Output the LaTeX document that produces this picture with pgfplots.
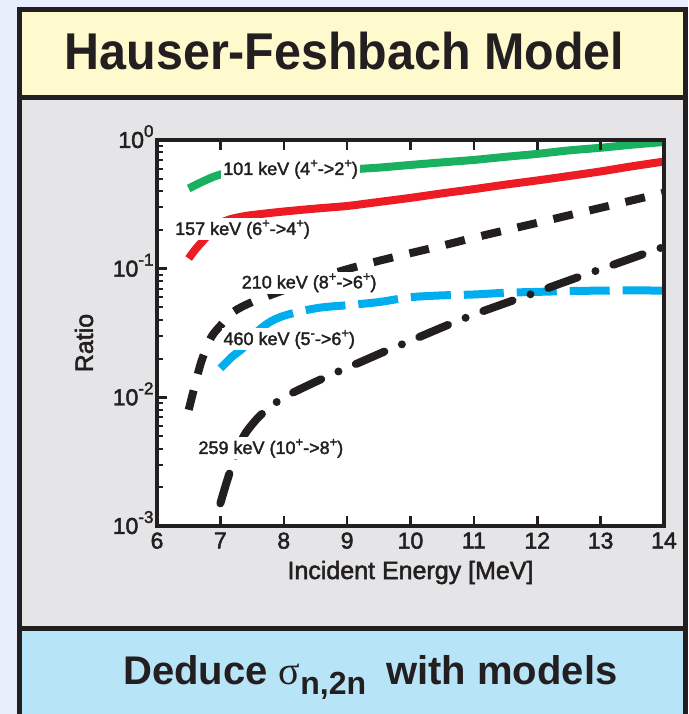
\documentclass[border=0pt]{standalone}
\usepackage{pgfplots}
\pgfplotsset{compat=1.18}
\usepackage{fontspec}
\setmainfont{Liberation Sans}
\newfontfamily\sigmafont{Liberation Serif}
\newfontfamily\plotfont[FakeBold=2]{Liberation Sans}

\definecolor{pagebg}{RGB}{232,238,252}
\definecolor{titlefill}{RGB}{255,250,205}
\definecolor{panelgray}{RGB}{229,229,231}
\definecolor{footblue}{RGB}{184,228,248}
\definecolor{inkdark}{RGB}{35,31,32}
\definecolor{hfgreen}{RGB}{25,176,96}
\definecolor{hfred}{RGB}{237,28,36}
\definecolor{hfcyan}{RGB}{0,174,239}

% ratio curves (incident energy in MeV, ratio)
\pgfplotstableread{
E     r
6.5   0.42
6.7   0.47
6.9   0.52
7.0   0.54
7.2   0.56
7.5   0.57
8.0   0.575
8.5   0.58
9.0   0.59
9.5   0.61
10.0  0.64
10.5  0.67
11.0  0.70
11.5  0.74
12.0  0.78
12.5  0.83
13.0  0.87
13.5  0.92
14.0  0.965
}\tabA
\pgfplotstableread{
E     r
6.5   0.12
6.6   0.14
6.75  0.17
6.9   0.205
7.0   0.225
7.15  0.242
7.4   0.257
7.7   0.268
8.0   0.278
8.5   0.293
9.0   0.307
9.5   0.33
10.0  0.355
10.5  0.385
11.0  0.415
11.5  0.45
12.0  0.485
12.5  0.525
13.0  0.57
13.5  0.625
14.0  0.68
}\tabB
\pgfplotstableread{
E     r
6.5   0.0080
6.6   0.0125
6.7   0.019
6.85  0.029
7.0   0.036
7.2   0.046
7.5   0.055
8.0   0.068
8.5   0.083
9.0   0.099
9.5   0.115
10.0  0.132
10.5  0.151
11.0  0.174
11.5  0.199
12.0  0.227
12.5  0.26
13.0  0.297
13.5  0.34
14.0  0.389
}\tabC
\pgfplotstableread{
E     r
7.0   0.0168
7.2   0.021
7.35  0.024
7.6   0.033
7.8   0.039
8.0   0.043
8.3   0.047
8.6   0.050
9.0   0.052
9.5   0.055
10.0  0.060
10.5  0.062
11.0  0.063
11.5  0.065
12.0  0.066
12.5  0.067
13.0  0.0675
13.5  0.0678
14.0  0.0675
}\tabD
\pgfplotstableread{
E     r
7.0   0.0015
7.1   0.0022
7.2   0.0031
7.3   0.0042
7.4   0.0053
7.6   0.0070
7.8   0.0085
8.0   0.0100
8.4   0.0125
8.8   0.0154
9.2   0.0187
9.6   0.0228
10.0  0.0275
10.5  0.035
11.0  0.044
11.5  0.054
12.0  0.066
12.5  0.081
13.0  0.099
13.5  0.121
14.0  0.148
}\tabE

\newcommand{\pw}[1]{10\smash{\raisebox{11pt}{\fontsize{17}{17}\selectfont #1}}}
\newcommand{\sups}[1]{\raisebox{0.42em}{\fontsize{13}{13}\selectfont #1}}

\begin{document}
\begin{tikzpicture}[
  lbl/.style={fill=white, inner xsep=2pt, inner ysep=1.5pt, anchor=base west,
    text=inkdark, font=\plotfont\fontsize{18}{18}\selectfont}]
% panel background and frame
\fill[pagebg] (0pt,0pt) rectangle (688pt,714pt);
\fill[titlefill] (19.5pt,616.5pt) rectangle (685pt,704.5pt);
\fill[panelgray] (19.5pt,85.5pt) rectangle (685pt,616.5pt);
\fill[footblue] (19.5pt,-5pt) rectangle (685pt,85.5pt);
\draw[inkdark, line width=5pt] (19.5pt,-5pt) -- (19.5pt,704.5pt) -- (685pt,704.5pt) -- (685pt,-5pt);
\draw[inkdark, line width=5pt] (19.5pt,616.5pt) -- (685pt,616.5pt);
\draw[inkdark, line width=5pt] (19.5pt,85.5pt) -- (685pt,85.5pt);
% white plotting area
\fill[white] (157pt,188pt) rectangle (664pt,574pt);

\node[anchor=base, text=inkdark, inner sep=0pt]
  at (344.5pt,644pt) {\scalebox{1.03}[1.1]{\fontsize{47}{50}\selectfont\bfseries Hauser-Feshbach Model}};

\node[anchor=base west, inner sep=0pt, text=inkdark]
  at (123pt,29pt) {\fontsize{40}{44}\selectfont\bfseries Deduce
  {\sigmafont\mdseries σ}\raisebox{-10pt}{\fontsize{32}{34}\selectfont n,2n}\hspace{9pt} with models};

\begin{axis}[
  at={(157pt,188pt)}, anchor=south west,
  scale only axis, width=507pt, height=386pt,
  xmin=6, xmax=14, ymode=log, ymin=1e-3, ymax=1,
  xtick={6,7,...,14},
  ytick={0.001,0.01,0.1,1},
  yticklabels={\pw{-3},\pw{-2},\pw{-1},\pw{0}},
  ytick pos=left,
  xticklabel pos=bottom,
  tick align=inside,
  axis line style={line width=4pt, draw=inkdark},
  tick style={draw=inkdark},
  major tick style={line width=2.5pt},
  minor tick style={line width=2pt},
  major tick length=10pt,
  minor tick length=6pt,
  tick label style={font=\plotfont\fontsize{23}{23}\selectfont, text=inkdark},
  /pgf/number format/assume math mode=true,
  xticklabel style={yshift=-3pt},
  xlabel={Incident Energy [MeV]},
  ylabel={Ratio},
  label style={font=\plotfont\fontsize{25}{25}\selectfont, text=inkdark},
  xlabel style={at={(axis description cs:0.5,-0.1373)}, anchor=base},
  ylabel style={at={(axis description cs:-0.144,0.474)}, anchor=center},
]
\addplot[hfgreen, line width=8pt, smooth] table[x=E, y=r] {\tabA};
\addplot[hfred, line width=8pt, smooth] table[x=E, y=r] {\tabB};
\addplot[inkdark, line width=8pt, smooth, dash pattern=on 20pt off 17pt] table[x=E, y=r] {\tabC};
\addplot[hfcyan, line width=8pt, smooth, dash pattern=on 40pt off 13pt] table[x=E, y=r] {\tabD};
\addplot[inkdark, line width=8pt, smooth, line cap=round,
  dash pattern=on 31pt off 19pt on 0pt off 19pt] table[x=E, y=r] {\tabE};

% heavy frame and inward ticks of the ratio plot
\draw[inkdark, line width=4pt] (rel axis cs:0,0) rectangle (rel axis cs:1,1);
\pgfplotsinvokeforeach{7,8,9,10,11,12,13}{
  \draw[inkdark, line width=2.5pt] (axis cs:#1,0.001) -- ++(0pt,10pt);
  \draw[inkdark, line width=2.5pt] (axis cs:#1,1) -- ++(0pt,-10pt);
}
\pgfplotsinvokeforeach{0.01,0.1}{
  \draw[inkdark, line width=2.5pt] (axis cs:6,#1) -- ++(10pt,0pt);
}
\pgfplotsinvokeforeach{0.002,0.003,0.004,0.005,0.006,0.007,0.008,0.009,
  0.02,0.03,0.04,0.05,0.06,0.07,0.08,0.09,0.2,0.3,0.4,0.5,0.6,0.7,0.8,0.9}{
  \draw[inkdark, line width=2pt] (axis cs:6,#1) -- ++(6pt,0pt);
}

\node[lbl] at (axis cs:7.01,0.535) {101 keV (4\sups{+}->2\sups{+})};
\node[lbl] at (axis cs:6.252,0.1827) {157 keV (6\sups{+}->4\sups{+})};
\node[lbl] at (axis cs:7.303,0.0703) {210 keV (8\sups{+}->6\sups{+})};
\node[lbl] at (axis cs:7.015,0.0255) {460 keV (5\sups{-}->6\sups{+})};
\node[lbl] at (axis cs:6.62,0.00363) {259 keV (10\sups{+}->8\sups{+})};
\end{axis}

\pgfresetboundingbox
\useasboundingbox (0pt,0pt) rectangle (688pt,714pt);
\end{tikzpicture}
\end{document}
